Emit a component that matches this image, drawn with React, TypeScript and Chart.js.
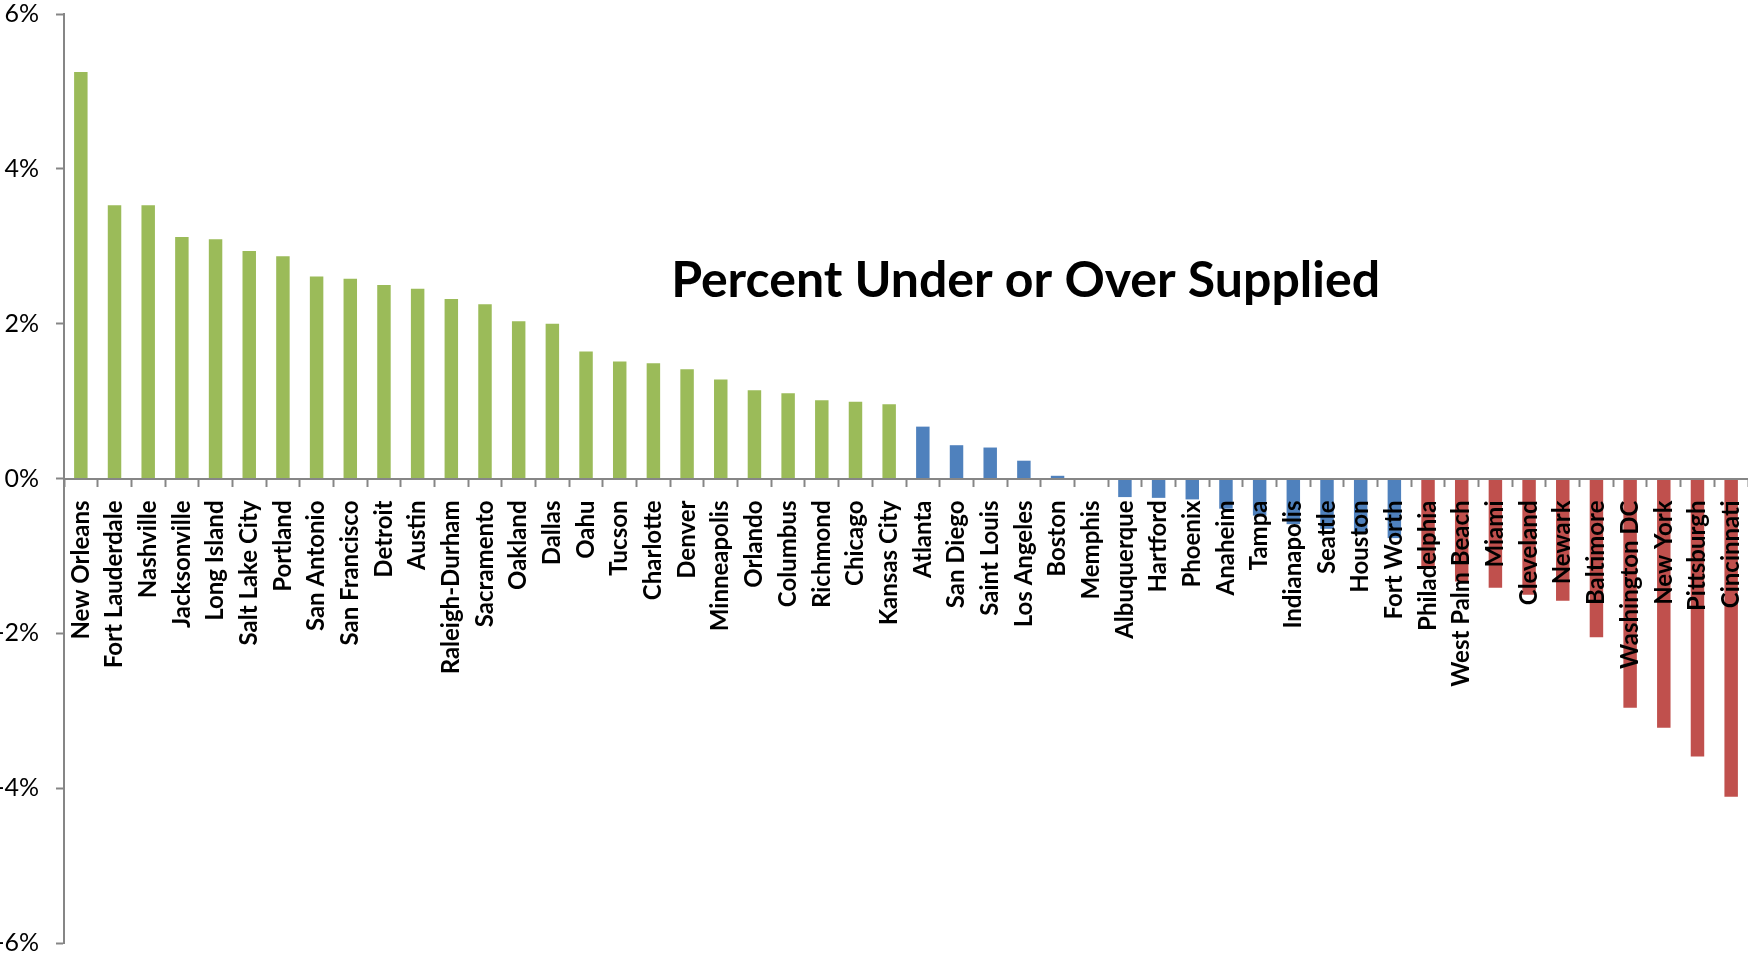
import React, { useEffect, useRef } from "react";
import { Chart, registerables } from "chart.js";

Chart.register(...registerables);

const overCities = [
  "New Orleans", "Fort Lauderdale", "Nashville", "Jacksonville", "Long Island",
  "Salt Lake City", "Portland", "San Antonio", "San Francisco", "Detroit",
  "Austin", "Raleigh-Durham", "Sacramento", "Oakland", "Dallas", "Oahu",
  "Tucson", "Charlotte", "Denver", "Minneapolis", "Orlando", "Columbus",
  "Richmond", "Chicago", "Kansas City",
];
const overValues = [
  5.25, 3.53, 3.53, 3.12, 3.09, 2.94, 2.87, 2.61, 2.58, 2.5, 2.45, 2.32, 2.25,
  2.03, 2.0, 1.64, 1.51, 1.49, 1.41, 1.28, 1.14, 1.1, 1.01, 0.99, 0.96,
];

const balancedCities = [
  "Atlanta", "San Diego", "Saint Louis", "Los Angeles", "Boston", "Memphis",
  "Albuquerque", "Hartford", "Phoenix", "Anaheim", "Tampa", "Indianapolis",
  "Seattle", "Houston", "Fort Worth",
];
const balancedValues = [
  0.67, 0.43, 0.4, 0.23, 0.035, 0, -0.24, -0.25, -0.27, -0.39, -0.48, -0.59,
  -0.65, -0.71, -0.77,
];

const underCities = [
  "Philadelphia", "West Palm Beach", "Miami", "Cleveland", "Newark",
  "Baltimore", "Washington DC", "New York", "Pittsburgh", "Cincinnati",
];
const underValues = [
  -1.15, -1.33, -1.41, -1.5, -1.58, -2.05, -2.96, -3.22, -3.59, -4.11,
];

const yTicks = [-6, -4, -2, 0, 2, 4, 6];
const chartTitle = "Percent Under or Over Supplied";

const GREEN = "#9BBB59";
const BLUE = "#4F81BD";
const RED = "#C0504D";
const AXIS = "#868686";
const FONT = "Lato, 'Liberation Sans', sans-serif";

export default function App() {
  const ref = useRef<HTMLCanvasElement | null>(null);

  useEffect(() => {
    if (!ref.current) return;
    const labels = [...overCities, ...balancedCities, ...underCities];
    const values = [...overValues, ...balancedValues, ...underValues];
    const colors = [
      ...overValues.map(() => GREEN),
      ...balancedValues.map(() => BLUE),
      ...underValues.map(() => RED),
    ];

    const titlePlugin = {
      id: "innerTitle",
      afterDraw(chart: any) {
        const { ctx, chartArea } = chart;
        ctx.save();
        ctx.font = "bold 50px " + FONT;
        ctx.fillStyle = "#000";
        ctx.textAlign = "center";
        ctx.textBaseline = "middle";
        const x = chartArea.left + (chartArea.right - chartArea.left) * 0.571;
        const y = chart.scales.y.getPixelForValue(2.55);
        ctx.fillText(chartTitle, x, y);
        ctx.restore();
      },
    };

    const chart = new Chart(ref.current, {
      type: "bar",
      data: {
        labels,
        datasets: [
          {
            data: values,
            backgroundColor: colors,
            borderWidth: 0,
            barPercentage: 0.4,
            categoryPercentage: 1,
          },
        ],
      },
      options: {
        responsive: false,
        animation: false,
        layout: { padding: { top: 14, bottom: 16, left: 0, right: 0 } },
        plugins: { legend: { display: false }, tooltip: { enabled: false }, title: { display: false } },
        scales: {
          x: {
            position: { y: 0 },
            afterFit: (scale: any) => {
              scale.paddingTop = 0;
              scale.paddingBottom = 0;
              scale.paddingLeft = 0;
              scale.paddingRight = 0;
            },
            grid: {
              display: true,
              drawOnChartArea: false,
              drawTicks: true,
              tickLength: 7,
              tickWidth: 2,
              color: AXIS,
              offset: true,
            },
            border: { display: true, color: AXIS, width: 2, z: 1 },
            ticks: {
              autoSkip: false,
              minRotation: 90,
              maxRotation: 90,
              padding: 15,
              color: "#000",
              font: { family: FONT, size: 24, weight: "bold" },
              z: 1,
            },
          },
          y: {
            min: -6,
            max: 6,
            afterBuildTicks: (scale: any) => {
              scale.ticks = yTicks.map((v) => ({ value: v }));
            },
            afterFit: (scale: any) => {
              scale.width = 64;
              scale.paddingTop = 0;
              scale.paddingBottom = 0;
            },
            grid: {
              display: true,
              drawOnChartArea: false,
              drawTicks: true,
              tickLength: 8,
              tickWidth: 2,
              color: AXIS,
            },
            border: { display: true, color: AXIS, width: 2 },
            ticks: {
              padding: 17,
              color: "#000",
              font: { family: FONT, size: 25 },
              callback: (v: any) => v + "%",
            },
          },
        },
      },
      plugins: [titlePlugin],
    });
    return () => chart.destroy();
  }, []);

  return (
    <div style={{ position: "absolute", left: 0, top: 0, width: 1748, height: 959, background: "#fff" }}>
      <canvas ref={ref} width={1748} height={959} style={{ display: "block" }} />
    </div>
  );
}
